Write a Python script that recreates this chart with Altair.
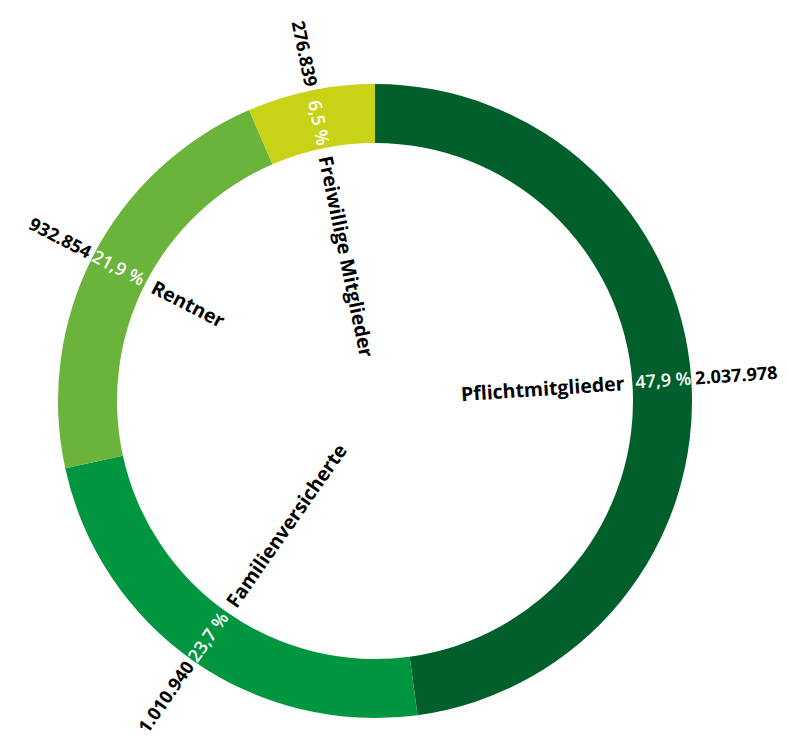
import math
import altair as alt
import pandas as pd

categories = ["Pflichtmitglieder", "Familienversicherte", "Rentner", "Freiwillige Mitglieder"]
values = [2037978, 1010940, 932854, 276839]
percent_labels = ["47,9 %", "23,7 %", "21,9 %", "6,5 %"]
value_labels = ["2.037.978", "1.010.940", "932.854", "276.839"]
colors = ["#005f2a", "#009640", "#6ab43b", "#c8d317"]

total = sum(values)
rows = []
cum = 0.0
for i, (c, v) in enumerate(zip(categories, values)):
    start = cum / total * 2 * math.pi
    cum += v
    end = cum / total * 2 * math.pi
    mid = (start + end) / 2
    deg = math.degrees(mid) - 90
    flip = math.degrees(mid) > 180
    if flip:
        deg += 180
    rows.append(dict(cat=c, value=v, pct=percent_labels[i], vlab=value_labels[i],
                     start=start, end=end, mid=mid, angle=deg % 360,
                     flip=flip, order=i))
df = pd.DataFrame(rows)

CX, CY = 367, 393
FONT = "Open Sans"

base = alt.Chart(df)

arcs = base.mark_arc(radius=317, innerRadius=258).encode(
    theta=alt.Theta("start:Q", scale=None),
    theta2="end:Q",
    color=alt.Color("cat:N", scale=alt.Scale(domain=categories, range=colors), legend=None),
    x=alt.value(CX),
    y=alt.value(CY),
)


def text_layer(field, radius, align, flip, color, weight, size):
    return base.transform_filter(
        alt.datum.flip if flip else ~alt.datum.flip
    ).mark_text(
        radius=radius, align=align, baseline="middle", font=FONT,
        fontWeight=weight, fontSize=size, color=color,
    ).encode(
        theta=alt.Theta("mid:Q", scale=None),
        angle=alt.Angle("angle:Q", scale=None),
        text=alt.Text(f"{field}:N"),
        x=alt.value(CX),
        y=alt.value(CY),
    )


layers = [arcs]
for flip in (False, True):
    layers.append(text_layer("cat", 250, "left" if flip else "right", flip, "#000000", "bold", 19.5))
    layers.append(text_layer("pct", 261, "right" if flip else "left", flip, "#ffffff", 600, 18))
    layers.append(text_layer("vlab", 321, "right" if flip else "left", flip, "#000000", "bold", 18))

chart = alt.layer(*layers).properties(
    width=772, height=732, padding=0, autosize="none"
).configure_view(stroke=None)

chart.save("out.html", embed_options={"renderer": "svg", "actions": False})
